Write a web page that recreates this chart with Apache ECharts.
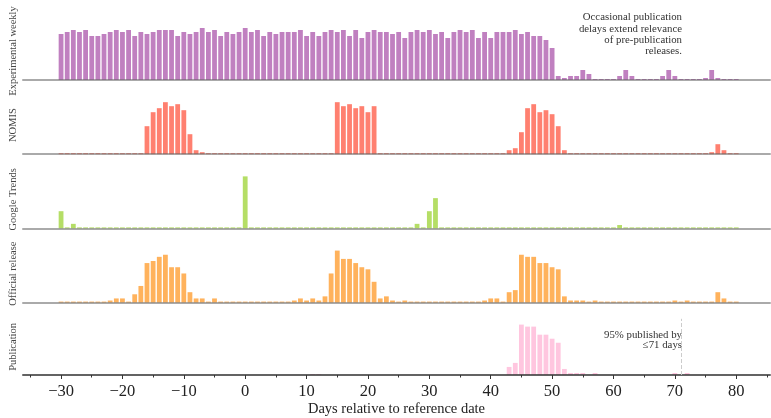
<!DOCTYPE html>
<html>
<head>
<meta charset="utf-8">
<script src="https://cdn.jsdelivr.net/npm/echarts@6/dist/echarts.min.js"></script>
<style>
  html, body { margin: 0; padding: 0; background: #fff; }
  #chart { width: 771px; height: 418px; }
</style>
</head>
<body>
<div id="chart"></div>
<script>
// days -30 .. 80, one value per day
const firstDay = -30;

const panelNames = ['Experimental weekly', 'NOMIS', 'Google Trends', 'Official release', 'Publication'];

const experimental = [
  23, 24, 25, 24, 25, 22, 22, 23, 24, 25,   // -30..-21
  24, 25, 22, 24, 23, 24, 25, 25, 25, 22,   // -20..-11
  24, 23, 24, 26, 24, 25, 22, 24, 23, 24,   // -10..-1
  26, 24, 25, 22, 24, 23, 24, 24, 24, 25,   // 0..9
  22, 24, 22, 24, 25, 24, 25, 22, 25, 21,   // 10..19
  24, 25, 24, 24, 23, 24, 21, 24, 25, 24,   // 20..29
  25, 23, 24, 21, 24, 25, 24, 25, 21, 24,   // 30..39
  21, 24, 24, 24, 25, 23, 24, 22, 22, 20,   // 40..49
  16, 2, 1, 2, 2, 5, 3, 0, 0, 0,            // 50..59
  0, 2, 5, 2, 0, 0, 0, 0, 2, 5,             // 60..69
  2, 0, 0, 0, 0, 1, 5, 1, 0, 0,             // 70..79
  0                                         // 80
];

const nomis = [
  0, 0, 0, 0, 0, 0, 0, 0, 0, 0,
  0, 0, 0, 0, 14, 21, 23, 26, 24, 25,
  22, 10, 2, 1, 0, 0, 0, 0, 0, 0,
  0, 0, 0, 0, 0, 0, 0, 0, 0, 0,
  0, 0, 0, 0, 0, 26, 24, 25, 23, 24,
  21, 24, 0, 0, 0, 0, 0, 0, 0, 0,
  0, 0, 0, 0, 0, 0, 0, 0, 0, 0,
  0, 0, 0, 2, 3, 11, 23, 25, 21, 22,
  20, 14, 2, 0, 0, 0, 0, 0, 0, 0,
  0, 0, 0, 0, 0, 0, 0, 0, 0, 0,
  0, 0, 0, 0, 0, 0, 1, 5, 2, 0,
  0
];

const google = [
  8.7, 0.5, 2.3, 0, 0, 0, 0, 0, 0, 0,
  0, 0, 0, 0, 0, 0, 0, 0.5, 0, 0,
  0, 0, 0, 0, 0, 0, 0, 0, 0, 0,
  26.3, 0, 0, 0, 0, 0, 0, 0, 0, 0,
  0, 0, 0, 0, 0, 0, 0, 0, 0.5, 0,
  0, 0, 0, 0, 0, 0, 0, 0, 2.3, 0.5,
  8.7, 15.3, 0, 0, 0, 0, 0, 0, 0, 0,
  0, 0, 0, 0, 0, 0, 0, 0.5, 0, 0,
  0, 0, 0, 0, 0, 0, 0, 0, 0, 0,
  0, 1.7, 0.3, 0, 0, 0, 0, 0, 0, 0,
  0, 0, 0, 0, 0, 0, 0, 0, 0, 0,
  0
];

const official = [
  0, 0, 0, 0, 0, 0, 0, 0, 1, 2,
  2, 0, 4, 8, 19, 20, 22, 23, 17, 17,
  14, 5, 2, 2, 0, 2, 0, 0, 0, 0,
  0, 0, 0, 0, 0, 0, 0, 0, 1, 2,
  1, 2, 1, 3, 14, 25, 21, 21, 19, 17,
  16, 10, 2, 3, 1, 0, 1, 0, 0, 0,
  0, 0, 0, 0, 0, 0, 0, 0, 0, 1,
  2, 2, 0, 5, 6, 23, 22, 22, 19, 19,
  17, 16, 3, 1, 1, 1, 0, 1, 0, 0,
  0, 0, 0, 0, 0, 0, 0, 0, 0, 0,
  1, 0, 1, 0, 0, 0, 0, 5, 2, 0,
  0
];

const publication = [
  0, 0, 0, 0, 0, 0, 0, 0, 0, 0,
  0, 0, 0, 0, 0, 0, 0, 0, 0, 0,
  0, 0, 0, 0, 0, 0, 0, 0, 0, 0,
  0, 0, 0, 0, 0, 0, 0, 0, 0, 0,
  0, 0.5, 0.5, 0, 0, 0, 0, 0, 0, 0,
  0, 0, 0, 0, 0, 0, 0, 0, 0, 0,
  0, 0, 0, 0, 0, 0, 0, 0, 0, 0,
  0, 0, 0, 4, 6, 25, 24, 24, 20, 20,
  18, 16, 3, 1, 1, 1, 0, 1, 0, 0,
  0, 0, 0, 0, 0, 0, 0, 0, 0, 0,
  1, 0, 1, 0, 0, 0, 0, 0, 0, 0,
  0
];

const pubCutoffDay = 71;
const majorTicks = [-30, -20, -10, 0, 10, 20, 30, 40, 50, 60, 70, 80];
const minorTicks = [-35, -25, -15, -5, 5, 15, 25, 35, 45, 55, 65, 75, 85];

const panelData = [experimental, nomis, google, official, publication];
const colors = ['#c080c0', '#ff8070', '#b5de66', '#ffb25c', '#ffc6df'];

const serif = '"Liberation Serif", "DejaVu Serif", serif';
const xMin = -36.2, xMax = 85.5;
const gridTop = 22, gridStep = 74.2, gridH = 58;

function toPairs(arr) {
  return arr.map((v, i) => [firstDay + i, v]);
}
function fmtTick(v) {
  return v < 0 ? '\u2212' + Math.abs(v) : String(v);
}

const grids = [], xAxes = [], yAxes = [], series = [];
panelData.forEach((arr, i) => {
  const last = i === panelData.length - 1;
  grids.push({ left: 22, right: 1, top: gridTop + i * gridStep, height: gridH });
  xAxes.push({
    type: 'value', gridIndex: i, position: 'bottom', min: xMin, max: xMax, z: 3,
    splitLine: { show: false },
    axisLine: { show: true, lineStyle: { color: last ? 'rgba(60,60,60,0.8)' : 'rgba(100,100,100,0.55)', width: 2 } },
    axisTick: last ? { show: true, customValues: majorTicks, length: 4, lineStyle: { color: '#333', width: 1 } } : { show: false },
    axisLabel: last ? {
      show: true, customValues: majorTicks, formatter: fmtTick, margin: 8,
      fontFamily: serif, fontSize: 16.5, color: '#222'
    } : { show: false },
    name: last ? 'Days relative to reference date' : '',
    nameLocation: 'middle', nameGap: 27,
    nameTextStyle: { fontFamily: serif, fontSize: 14.5, color: '#222' }
  });
  yAxes.push({
    type: 'value', gridIndex: i, min: 0, max: v => v.max * 1.115,
    axisLine: { show: false }, axisTick: { show: false }, axisLabel: { show: false },
    splitLine: { show: false },
    name: panelNames[i], nameLocation: 'middle', nameGap: 4,
    nameTextStyle: { fontFamily: serif, fontSize: 10.5, color: '#444' }
  });
  const s = {
    type: 'bar', name: panelNames[i], xAxisIndex: i, yAxisIndex: i,
    data: toPairs(arr), barWidth: 4.8, barMinHeight: last ? 0 : 1,
    itemStyle: { color: colors[i] }, silent: true
  };
  if (last) {
    s.markLine = {
      silent: true, symbol: 'none', label: { show: false },
      lineStyle: { color: '#ccc', type: 'dashed', width: 1 },
      data: [{ xAxis: pubCutoffDay }]
    };
  }
  series.push(s);
});

// minor ticks for bottom axis
xAxes.push({
  type: 'value', gridIndex: 4, position: 'bottom', min: xMin, max: xMax, z: 3,
  splitLine: { show: false }, axisLine: { show: false }, axisLabel: { show: false },
  axisTick: { show: true, customValues: minorTicks, length: 2.5, lineStyle: { color: '#333', width: 1 } }
});

const chart = echarts.init(document.getElementById('chart'));
chart.setOption({
  animation: false,
  grid: grids,
  xAxis: xAxes,
  yAxis: yAxes,
  series: series,
  graphic: [
    {
      type: 'text', x: 682, y: 12,
      style: {
        text: 'Occasional publication\ndelays extend relevance\nof pre-publication\nreleases.',
        textAlign: 'right', align: 'right', verticalAlign: 'top',
        lineHeight: 11.2, font: '10.8px ' + serif, fill: '#333'
      }
    },
    {
      type: 'text', x: 682, y: 330,
      style: {
        text: '95% published by\n\u226471 days',
        textAlign: 'right', align: 'right', verticalAlign: 'top',
        lineHeight: 10, font: '10.8px ' + serif, fill: '#333'
      }
    }
  ]
});
</script>
</body>
</html>
